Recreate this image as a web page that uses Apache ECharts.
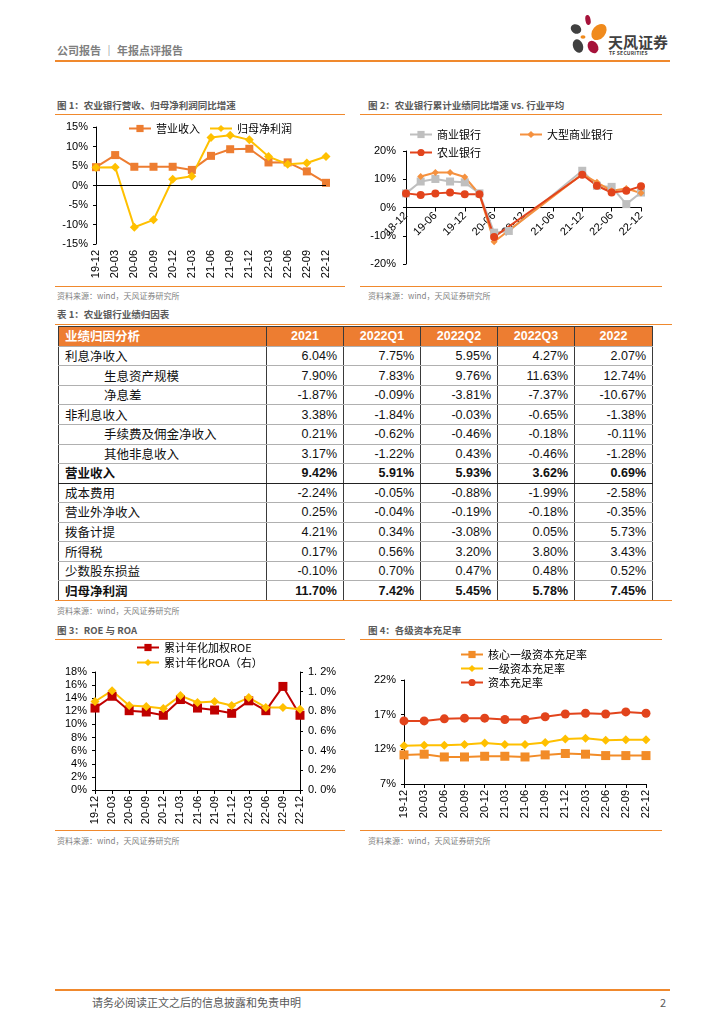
<!DOCTYPE html>
<html><head><meta charset="utf-8">
<script src="https://cdn.jsdelivr.net/npm/echarts@6/dist/echarts.min.js"></script>
<style>
html,body{margin:0;padding:0;background:#fff;}
body{width:724px;height:1024px;position:relative;overflow:hidden;font-family:"Noto Sans CJK SC","Noto Sans",sans-serif;}
.abs{position:absolute;}
.hline{position:absolute;height:0;border-top:2px solid #F0892D;}
.thin{border-top-width:1.3px;}
.ftitle{position:absolute;font-size:9.5px;font-weight:bold;color:#595959;white-space:nowrap;}
.src{position:absolute;font-size:8px;color:#7f7f7f;white-space:nowrap;}
table{border-collapse:collapse;table-layout:fixed;}
td{height:18.55px;padding:0 6px;font-size:12.5px;line-height:14px;color:#111;border-left:1px solid #3a3a3a;border-right:1px solid #3a3a3a;border-top:1px solid #b0b0b0;border-bottom:1px solid #b0b0b0;white-space:nowrap;font-family:"Liberation Sans","Noto Sans CJK SC",sans-serif;}
td.name{font-family:"Noto Sans CJK SC",sans-serif;text-align:left;}
td.num{text-align:right;}
tr.head td{background:#ED7D31;color:#fff;font-weight:bold;height:18.8px;text-align:center;border-top:1px solid #3a3a3a;}
tr.head td.name{text-align:left;}
tr.bold td{font-weight:bold;border-top:1.5px solid #222;border-bottom:1.5px solid #222;}
tr.sub td.name{padding-left:45px;}
</style>
</head><body>
<div class="abs" style="left:57px;top:42px;font-size:11px;font-weight:bold;color:#7f7f7f;white-space:nowrap;">公司报告 ｜ 年报点评报告</div>
<svg class="abs" style="left:566px;top:14px" width="46" height="42" viewBox="0 0 46 42">
  <ellipse cx="10" cy="15" rx="5.5" ry="4.5" fill="#404040" transform="rotate(30 10 15)"/>
  <ellipse cx="22" cy="6" rx="2.6" ry="5" fill="#A6123A" transform="rotate(-10 22 6)"/>
  <ellipse cx="33" cy="18" rx="6.5" ry="9" fill="#F08A1C" transform="rotate(40 33 18)"/>
  <ellipse cx="12" cy="32" rx="5" ry="7" fill="#404040" transform="rotate(-20 12 32)"/>
  <ellipse cx="27" cy="33" rx="5" ry="6.5" fill="#A6123A" transform="rotate(-30 27 33)"/>
  <ellipse cx="17" cy="23" rx="2.5" ry="1.8" fill="#F08A1C"/>
</svg>
<div class="abs" style="left:608px;top:31px;font-size:15px;font-weight:bold;color:#404040;letter-spacing:0px;white-space:nowrap;">天风证券</div>
<div class="abs" style="left:609px;top:49px;font-size:5px;font-weight:bold;color:#404040;white-space:nowrap;letter-spacing:0.2px;">TF SECURITIES</div>
<div class="hline" style="left:55px;top:60px;width:615px;"></div>

<div class="ftitle" style="left:57px;top:98px;">图 1：农业银行营收、归母净利润同比增速</div>
<div class="hline thin" style="left:55px;top:114px;width:290px;"></div>
<div id="c1" class="abs" style="left:55px;top:115px;width:290px;height:171px;"></div>
<div class="hline thin" style="left:55px;top:286px;width:290px;"></div>
<div class="src" style="left:57px;top:290px;">资料来源：wind，天风证券研究所</div>

<div class="ftitle" style="left:368px;top:98px;">图 2：农业银行累计业绩同比增速 vs. 行业平均</div>
<div class="hline thin" style="left:360px;top:114px;width:302px;"></div>
<div id="c2" class="abs" style="left:360px;top:115px;width:302px;height:171px;"></div>
<div class="hline thin" style="left:360px;top:286px;width:302px;"></div>
<div class="src" style="left:368px;top:290px;">资料来源：wind，天风证券研究所</div>

<div class="ftitle" style="left:57px;top:307px;">表 1：农业银行业绩归因表</div>
<div class="hline thin" style="left:55px;top:324px;width:617px;"></div>
<div id="tbl" class="abs" style="left:58px;top:326px;"></div>
<div class="hline thin" style="left:55px;top:600px;width:617px;"></div>
<div class="src" style="left:57px;top:605px;">资料来源：wind，天风证券研究所</div>

<div class="ftitle" style="left:57px;top:623px;">图 3：ROE 与 ROA</div>
<div class="hline thin" style="left:55px;top:639px;width:290px;"></div>
<div id="c3" class="abs" style="left:55px;top:640px;width:290px;height:190px;"></div>
<div class="hline thin" style="left:55px;top:830px;width:290px;"></div>
<div class="src" style="left:57px;top:835px;">资料来源：wind，天风证券研究所</div>

<div class="ftitle" style="left:368px;top:623px;">图 4：各级资本充足率</div>
<div class="hline thin" style="left:360px;top:639px;width:302px;"></div>
<div id="c4" class="abs" style="left:360px;top:640px;width:302px;height:190px;"></div>
<div class="hline thin" style="left:360px;top:830px;width:302px;"></div>
<div class="src" style="left:368px;top:835px;">资料来源：wind，天风证券研究所</div>

<div class="hline" style="left:55px;top:989px;width:615px;"></div>
<div class="abs" style="left:92px;top:994px;font-size:11px;color:#595959;white-space:nowrap;">请务必阅读正文之后的信息披露和免责申明</div>
<div class="abs" style="left:660px;top:994px;font-size:11px;color:#595959;">2</div>

<script>
// ---------- data ----------
const quarterCats = ['19-12','20-03','20-06','20-09','20-12','21-03','21-06','21-09','21-12','22-03','22-06','22-09','22-12'];
const revenueYoY = [4.7,7.8,4.8,4.8,4.8,4.0,7.6,9.3,9.42,5.91,5.93,3.62,0.69];
const profitYoY = [4.6,4.7,-10.7,-8.8,1.6,2.4,12.3,12.9,11.70,7.42,5.45,5.78,7.45];

const c2Cats = ['18-12','19-03','19-06','19-09','19-12','20-03','20-06','20-09','20-12','21-03','21-06','21-09','21-12','22-03','22-06','22-09','22-12'];
const commercialBanks = [5.0,9.2,10.1,9.2,8.9,5.0,-8.9,-8.3,null,null,null,null,13.0,7.7,7.3,1.2,5.3];
const largeBanks = [null,11.0,12.4,12.4,10.8,4.7,-12.1,null,null,null,null,null,11.8,8.9,5.9,6.7,5.1];
const abcBank = [5.0,4.4,5.0,5.3,4.7,4.7,-10.4,null,null,null,null,null,11.6,7.7,5.3,5.9,7.5];

const roe = [12.5,14.3,12.1,11.9,11.4,13.8,12.5,12.2,11.7,13.6,12.1,15.8,11.4];
const roa = [0.90,1.01,0.86,0.85,0.83,0.96,0.89,0.90,0.86,0.94,0.84,0.84,0.82];

const coreTier1 = [11.2,11.3,10.9,10.9,11.0,11.0,10.9,11.2,11.4,11.3,11.1,11.1,11.1];
const tier1 = [12.5,12.6,12.6,12.7,12.9,12.7,12.7,13.0,13.5,13.6,13.3,13.4,13.4];
const totalCar = [16.1,16.1,16.4,16.5,16.5,16.3,16.3,16.7,17.1,17.2,17.1,17.4,17.2];

const tableHeader = ['业绩归因分析','2021','2022Q1','2022Q2','2022Q3','2022'];
const tableRowNames = ['利息净收入','生息资产规模','净息差','非利息收入','手续费及佣金净收入','其他非息收入','营业收入','成本费用','营业外净收入','拨备计提','所得税','少数股东损益','归母净利润'];
const tableRowKinds = ['main','sub','sub','main','sub','sub','bold','main','main','main','main','main','bold'];
const tableValues = [
  ['6.04%','7.75%','5.95%','4.27%','2.07%'],
  ['7.90%','7.83%','9.76%','11.63%','12.74%'],
  ['-1.87%','-0.09%','-3.81%','-7.37%','-10.67%'],
  ['3.38%','-1.84%','-0.03%','-0.65%','-1.38%'],
  ['0.21%','-0.62%','-0.46%','-0.18%','-0.11%'],
  ['3.17%','-1.22%','0.43%','-0.46%','-1.28%'],
  ['9.42%','5.91%','5.93%','3.62%','0.69%'],
  ['-2.24%','-0.05%','-0.88%','-1.99%','-2.58%'],
  ['0.25%','-0.04%','-0.19%','-0.18%','-0.35%'],
  ['4.21%','0.34%','-3.08%','0.05%','5.73%'],
  ['0.17%','0.56%','3.20%','3.80%','3.43%'],
  ['-0.10%','0.70%','0.47%','0.48%','0.52%'],
  ['11.70%','7.42%','5.45%','5.78%','7.45%']
];

// ---------- table ----------
(function(){
  const colW = [208,77,77,77,77,78];
  let h = '<table style="width:594px">';
  h += '<colgroup>' + colW.map(w=>'<col style="width:'+w+'px">').join('') + '</colgroup>';
  h += '<tr class="head">' + tableHeader.map((t,i)=>'<td class="'+(i===0?'name':'')+'">'+t+'</td>').join('') + '</tr>';
  tableRowNames.forEach((n,r)=>{
    const k = tableRowKinds[r];
    h += '<tr class="'+(k==='sub'?'sub':(k==='bold'?'bold':''))+'"><td class="name">'+n+'</td>' + tableValues[r].map(v=>'<td class="num">'+v+'</td>').join('') + '</tr>';
  });
  h += '</table>';
  document.getElementById('tbl').innerHTML = h;
})();

// ---------- charts ----------
const AX = {fontFamily:'Liberation Sans, Arial, sans-serif', fontSize:11, color:'#000'};
const LG = {fontFamily:'Noto Sans CJK SC, sans-serif', fontSize:11, color:'#000'};
const axLine = {show:true, lineStyle:{color:'#000', width:1}};
function lineSeries(name, data, color, symbol, size, extra){
  return Object.assign({type:'line', name, data, symbol, symbolSize:size, showSymbol:true,
    lineStyle:{color, width:2}, itemStyle:{color}, connectNulls:true, animation:false}, extra||{});
}

// Chart 1
echarts.init(document.getElementById('c1')).setOption({
  animation:false,
  legend:{left:68, top:3, itemWidth:22, itemHeight:9, itemGap:9, textStyle:LG, data:['营业收入','归母净利润']},
  grid:{left:41, right:19, top:12, bottom:42, outerBoundsMode:'none'},
  xAxis:{type:'category', data:quarterCats, boundaryGap:false,
    axisLine:{show:false, onZero:false}, axisTick:{show:false},
    axisLabel:Object.assign({rotate:90, margin:6, interval:0}, AX)},
  yAxis:{type:'value', min:-15, max:15, interval:5, splitLine:{show:false},
    axisLine:axLine, axisTick:{show:true, length:3, lineStyle:{color:'#000'}},
    axisLabel:Object.assign({formatter:'{value}%', margin:8}, AX)},
  series:[
    lineSeries('营业收入', revenueYoY, '#ED7D31', 'rect', 8, {
      markLine:{silent:true, symbol:'none', label:{show:false}, lineStyle:{color:'#000', width:1, type:'solid'}, data:[{yAxis:0}]}
    }),
    lineSeries('归母净利润', profitYoY, '#FFC000', 'diamond', 9)
  ]
});

// Chart 2
echarts.init(document.getElementById('c2')).setOption({
  animation:false,
  legend:[
    {left:44, top:9, itemWidth:22, itemHeight:9, itemGap:38, textStyle:LG, data:['商业银行','大型商业银行']},
    {left:44, top:27, itemWidth:22, itemHeight:9, textStyle:LG, data:['农业银行']}
  ],
  grid:{left:46, right:21, top:36, bottom:22, outerBoundsMode:'none'},
  xAxis:{type:'category', data:c2Cats, boundaryGap:false,
    axisLine:{show:true, onZero:true, lineStyle:{color:'#000'}},
    axisTick:{show:true, interval:1, length:4, lineStyle:{color:'#000'}},
    axisLabel:Object.assign({rotate:45, interval:1, margin:-50}, AX)},
  yAxis:{type:'value', min:-20, max:20, interval:10, splitLine:{show:false},
    axisLine:axLine, axisTick:{show:true, length:3, lineStyle:{color:'#000'}},
    axisLabel:Object.assign({formatter:'{value}%', margin:10}, AX)},
  series:[
    lineSeries('商业银行', commercialBanks, '#BFBFBF', 'rect', 8),
    lineSeries('大型商业银行', largeBanks, '#F5913F', 'diamond', 7),
    lineSeries('农业银行', abcBank, '#E2441C', 'circle', 8)
  ]
});

// Chart 3
echarts.init(document.getElementById('c3')).setOption({
  animation:false,
  legend:[
    {left:76, top:-3, itemWidth:22, itemHeight:9, textStyle:LG, data:['累计年化加权ROE']},
    {left:76, top:12, itemWidth:22, itemHeight:9, textStyle:LG, data:['累计年化ROA（右）']}
  ],
  grid:{left:40, right:45, top:32, bottom:40, outerBoundsMode:'none'},
  xAxis:{type:'category', data:quarterCats, boundaryGap:false,
    axisLine:axLine, axisTick:{show:true, length:4, lineStyle:{color:'#000'}},
    axisLabel:Object.assign({rotate:90, margin:6, interval:0}, AX)},
  yAxis:[
    {type:'value', min:0, max:18, interval:2, splitLine:{show:false},
      axisLine:axLine, axisTick:{show:true, length:3, lineStyle:{color:'#000'}},
      axisLabel:Object.assign({formatter:'{value}%', margin:8}, AX)},
    {type:'value', min:0, max:1.2, interval:0.2, splitLine:{show:false}, position:'right',
      axisLine:axLine, axisTick:{show:true, length:3, lineStyle:{color:'#000'}},
      axisLabel:Object.assign({formatter:v=>v.toFixed(1).replace('.', '. ')+'%', margin:8}, AX)}
  ],
  series:[
    lineSeries('累计年化加权ROE', roe, '#C00000', 'rect', 9),
    lineSeries('累计年化ROA（右）', roa, '#FFC000', 'diamond', 9, {yAxisIndex:1})
  ]
});

// Chart 4
echarts.init(document.getElementById('c4')).setOption({
  animation:false,
  legend:[
    {left:95, top:4, itemWidth:22, itemHeight:9, textStyle:LG, data:['核心一级资本充足率']},
    {left:95, top:18, itemWidth:22, itemHeight:9, textStyle:LG, data:['一级资本充足率']},
    {left:95, top:32, itemWidth:22, itemHeight:9, textStyle:LG, data:['资本充足率']}
  ],
  grid:{left:44, right:16, top:40, bottom:46, outerBoundsMode:'none'},
  xAxis:{type:'category', data:quarterCats, boundaryGap:false,
    axisLine:axLine, axisTick:{show:true, length:4, lineStyle:{color:'#000'}},
    axisLabel:Object.assign({rotate:90, margin:6, interval:0}, AX)},
  yAxis:{type:'value', min:7, max:22, interval:5, splitLine:{show:false},
    axisLine:axLine, axisTick:{show:true, length:3, lineStyle:{color:'#000'}, customValues:[7,12,17,22]},
    axisLabel:Object.assign({formatter:'{value}%', margin:8, customValues:[7,12,17,22]}, AX)},
  series:[
    lineSeries('核心一级资本充足率', coreTier1, '#F28C28', 'rect', 9),
    lineSeries('一级资本充足率', tier1, '#FFC000', 'diamond', 9),
    lineSeries('资本充足率', totalCar, '#E2441C', 'circle', 9)
  ]
});
</script>
</body></html>
